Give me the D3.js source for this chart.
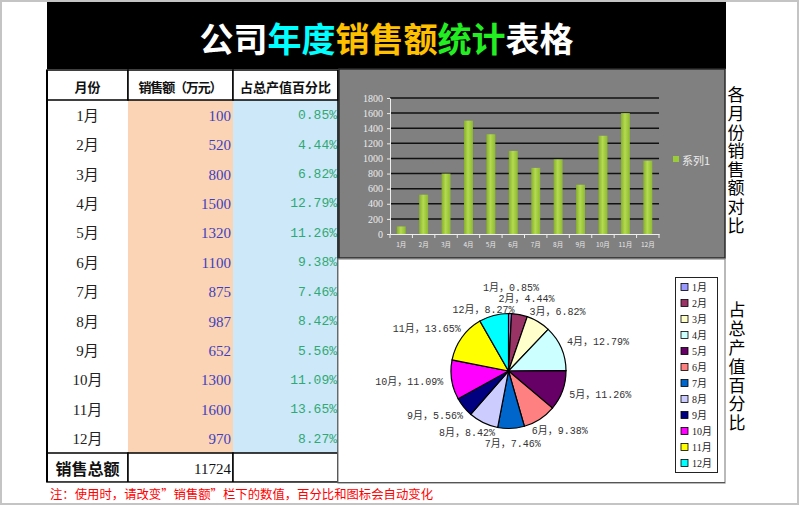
<!DOCTYPE html>
<html><head><meta charset="utf-8">
<script src="https://cdn.jsdelivr.net/npm/d3@7"></script>
<style>body{margin:0;background:#fff}svg{display:block}</style>
</head><body>
<svg id="c" width="800" height="506"></svg>
<script>
// ---------- data ----------
const months = ["1月","2月","3月","4月","5月","6月","7月","8月","9月","10月","11月","12月"];
const sales = [100, 520, 800, 1500, 1320, 1100, 875, 987, 652, 1300, 1600, 970];
const percents = ["0.85%","4.44%","6.82%","12.79%","11.26%","9.38%","7.46%","8.42%","5.56%","11.09%","13.65%","8.27%"];
const totalSales = 11724;
const yTicks = [0,200,400,600,800,1000,1200,1400,1600,1800];
const sliceColors = ["#9999FF","#993366","#FFFFCC","#CCFFFF","#660066","#FF8080","#0066CC","#CCCCFF","#000080","#FF00FF","#FFFF00","#00FFFF"];
const seriesName = "系列1";
const titleParts = [["公司","#ffffff"],["年度","#00FFFF"],["销售额","#FFC000"],["统计","#22EE22"],["表格","#ffffff"]];
const headers = ["月份","销售额（万元）","占总产值百分比"];
const totalLabel = "销售总额";
const note = "注：使用时，请改变”销售额”栏下的数值，百分比和图标会自动变化";
const sideTitle1 = "各月份销售额对比";
const sideTitle2 = "占总产值百分比";

const CJK = "'Noto Sans CJK SC','Noto Sans',sans-serif";
const SERIF = "'Liberation Serif','Noto Sans CJK SC',serif";
const MONO = "'Liberation Mono','Noto Sans CJK SC',monospace";

const svg = d3.select("#c");

// ---------- frame ----------
svg.append("rect").attr("x",1).attr("y",1).attr("width",797).attr("height",503)
  .attr("fill","#fff").attr("stroke","#c4c4c4").attr("stroke-width",2);

// title band
svg.append("rect").attr("x",47).attr("y",2).attr("width",679).attr("height",67).attr("fill","#000");
const tt = svg.append("text").attr("x",386.5).attr("y",37).attr("text-anchor","middle")
  .attr("dominant-baseline","central").attr("font-family",CJK).attr("font-weight","bold").attr("font-size",34);
titleParts.forEach(p => tt.append("tspan").attr("fill",p[1]).text(p[0]));

// ---------- table ----------
const colX = [47,128,233,338];
const headTop = 70, rowsTop = 100, rowsBottom = 453, totalBottom = 482;
const rowH = (rowsBottom - rowsTop) / months.length;
const rowY = d3.scaleBand().domain(months).range([rowsTop, rowsBottom]);

svg.append("rect").attr("x",colX[1]).attr("y",rowsTop).attr("width",colX[2]-colX[1]).attr("height",rowsBottom-rowsTop).attr("fill","#FAD4B4");
svg.append("rect").attr("x",colX[2]).attr("y",rowsTop).attr("width",colX[3]-colX[2]).attr("height",rowsBottom-rowsTop).attr("fill","#CCE8F9");

// header cells
headers.forEach((h,i)=>{
  svg.append("rect").attr("x",colX[i]).attr("y",headTop).attr("width",colX[i+1]-colX[i]).attr("height",rowsTop-headTop)
    .attr("fill","#fff").attr("stroke","#000").attr("stroke-width",1.5);
  svg.append("text").attr("x",(colX[i]+colX[i+1])/2).attr("y",(headTop+rowsTop)/2+1)
    .attr("text-anchor","middle").attr("dominant-baseline","central")
    .attr("font-family",CJK).attr("font-weight","bold").attr("font-size",13).attr("fill","#111")
    .attr("textLength", i===1 ? 84 : null).text(h);
});

// rows
const rows = svg.append("g").selectAll("g").data(months).join("g");
rows.append("text").attr("x",(colX[0]+colX[1])/2).attr("y",d=>rowY(d)+rowH/2+1)
  .attr("text-anchor","middle").attr("dominant-baseline","central")
  .attr("font-family",SERIF).attr("font-size",15).attr("fill","#222").text(d=>d);
rows.append("text").attr("x",colX[2]-2).attr("y",d=>rowY(d)+rowH/2+1)
  .attr("text-anchor","end").attr("dominant-baseline","central")
  .attr("font-family",SERIF).attr("font-size",15).attr("fill","#3F3FBF").text((d,i)=>sales[i]);
rows.append("text").attr("x",colX[3]-1).attr("y",d=>rowY(d)+rowH/2+1)
  .attr("text-anchor","end").attr("dominant-baseline","central")
  .attr("font-family",MONO).attr("font-size",13).attr("fill","#30A874").text((d,i)=>percents[i]);

// total row
[0,1,2].forEach(i=>{
  svg.append("rect").attr("x",colX[i]).attr("y",rowsBottom).attr("width",colX[i+1]-colX[i]).attr("height",totalBottom-rowsBottom)
    .attr("fill","#fff").attr("stroke","#000").attr("stroke-width",1.5);
});
svg.append("text").attr("x",(colX[0]+colX[1])/2).attr("y",(rowsBottom+totalBottom)/2)
  .attr("text-anchor","middle").attr("dominant-baseline","central")
  .attr("font-family",CJK).attr("font-weight","bold").attr("font-size",16).attr("fill","#111").text(totalLabel);
svg.append("text").attr("x",colX[2]-2).attr("y",(rowsBottom+totalBottom)/2+1)
  .attr("text-anchor","end").attr("dominant-baseline","central")
  .attr("font-family",SERIF).attr("font-size",15).attr("fill","#111").text(totalSales);

// table outer lines
svg.append("line").attr("x1",47).attr("x2",47).attr("y1",headTop).attr("y2",totalBottom).attr("stroke","#000").attr("stroke-width",2);
svg.append("line").attr("x1",338).attr("x2",338).attr("y1",headTop).attr("y2",totalBottom).attr("stroke","#000").attr("stroke-width",1.5);

// ---------- bar chart panel ----------
svg.append("rect").attr("x",339).attr("y",69).attr("width",386).attr("height",189)
  .attr("fill","#808080").attr("stroke","#2a2a2a").attr("stroke-width",1.5);

const x = d3.scaleBand().domain(months).range([390,659]).paddingInner(0.6).paddingOuter(0.3);
const y = d3.scaleLinear().domain([0,1800]).range([234,98]);

const defs = svg.append("defs");
const grad = defs.append("linearGradient").attr("id","barg").attr("x1","0").attr("x2","1").attr("y1","0").attr("y2","0");
grad.append("stop").attr("offset","0%").attr("stop-color","#86B02A");
grad.append("stop").attr("offset","45%").attr("stop-color","#B4DA52");
grad.append("stop").attr("offset","100%").attr("stop-color","#8DBA2E");

// gridlines
svg.append("g").selectAll("line").data(yTicks.filter(t=>t>0)).join("line")
  .attr("x1",390).attr("x2",659).attr("y1",d=>y(d)).attr("y2",d=>y(d))
  .attr("stroke","#111").attr("stroke-width",1.5);

// bars
svg.append("g").selectAll("rect").data(sales).join("rect")
  .attr("x",(d,i)=>x(months[i])).attr("width",x.bandwidth())
  .attr("y",d=>y(d)).attr("height",d=>y(0)-y(d)).attr("fill","url(#barg)");

// y axis
const yAxis = svg.append("g").attr("transform","translate(390,0)")
  .call(d3.axisLeft(y).tickValues(yTicks).tickFormat(d3.format("d")).tickSize(3).tickSizeOuter(0).tickPadding(4));
yAxis.select(".domain").attr("stroke","#eee");
yAxis.selectAll(".tick line").attr("stroke","#eee");
yAxis.selectAll("text").attr("fill","#ececec").attr("font-family","'Liberation Serif',serif").attr("font-size",10);

// x axis
const xAxis = svg.append("g").attr("transform","translate(0,234)")
  .call(d3.axisBottom(x).tickSize(0).tickSizeOuter(0).tickPadding(8));
xAxis.select(".domain").attr("stroke","#eee");
xAxis.selectAll("text").attr("fill","#eaeaea").attr("font-family",CJK).attr("font-size",6.5);
const bounds = months.map((m,i)=>x(m) - x.step()*x.paddingOuter()).concat([659]);
svg.append("g").selectAll("line").data(bounds).join("line")
  .attr("x1",d=>d).attr("x2",d=>d).attr("y1",234).attr("y2",238).attr("stroke","#eee");

// legend
svg.append("rect").attr("x",673).attr("y",156).attr("width",6).attr("height",6).attr("fill","#9ACB38");
svg.append("text").attr("x",682).attr("y",159.5).attr("dominant-baseline","central")
  .attr("font-family",CJK).attr("font-size",11).attr("fill","#ececec").text(seriesName);

// ---------- pie panel ----------
svg.append("rect").attr("x",338).attr("y",259).attr("width",387).attr("height",224)
  .attr("fill","#fff").attr("stroke","#8a8a8a").attr("stroke-width",1.2);
svg.append("line").attr("x1",47).attr("x2",725).attr("y1",482.5).attr("y2",482.5).attr("stroke","#555").attr("stroke-width",1.2);

const cx = 508.5, cy = 371, R = 57.5;
const pie = d3.pie().sort(null).value(d=>d);
const arcs = pie(sales);
const arc = d3.arc().innerRadius(0).outerRadius(R);
const pg = svg.append("g").attr("transform",`translate(${cx},${cy})`);
pg.selectAll("path").data(arcs).join("path").attr("d",arc)
  .attr("fill",(d,i)=>sliceColors[i]).attr("stroke","#000").attr("stroke-width",1.2);

// pie labels
const labelR = R + 9;
const lbl = svg.append("g").selectAll("text").data(arcs).join("text")
  .attr("text-anchor","middle").attr("dominant-baseline","central")
  .attr("font-family",MONO).attr("font-size",10).attr("fill","#333")
  .text((d,i)=>months[i] + "，" + percents[i]);
const boxes = [];
lbl.each(function(d){
  const a = (d.startAngle+d.endAngle)/2;
  const w = this.getComputedTextLength(), h = 11;
  const px = cx + Math.sin(a)*labelR, py = cy - Math.cos(a)*labelR;
  boxes.push({x: px + Math.sin(a)*w/2, y: py - Math.cos(a)*h/2, w, h});
});
for (let it=0; it<200; it++){
  for (let i=0;i<boxes.length;i++) for (let j=i+1;j<boxes.length;j++){
    const A=boxes[i], B=boxes[j];
    if (Math.abs(A.x-B.x) < (A.w+B.w)/2 && Math.abs(A.y-B.y) < (A.h+B.h)/2){
      const ov = (A.h+B.h)/2 - Math.abs(A.y-B.y);
      if (A.y <= B.y){ A.y -= ov/2; B.y += ov/2; } else { A.y += ov/2; B.y -= ov/2; }
    }
  }
}
lbl.attr("x",(d,i)=>boxes[i].x).attr("y",(d,i)=>boxes[i].y);

// pie legend
svg.append("rect").attr("x",675.5).attr("y",277.5).attr("width",42).attr("height",195)
  .attr("fill","#fff").attr("stroke","#222").attr("stroke-width",1);
const ly = d3.scalePoint().domain(months).range([287,463]);
const lg = svg.append("g").selectAll("g").data(months).join("g");
lg.append("rect").attr("x",681).attr("y",d=>ly(d)-3.5).attr("width",7).attr("height",7)
  .attr("fill",(d,i)=>sliceColors[i]).attr("stroke","#000").attr("stroke-width",0.8);
lg.append("text").attr("x",692).attr("y",d=>ly(d)+0.5).attr("dominant-baseline","central")
  .attr("font-family",SERIF).attr("font-size",10).attr("fill","#222").text(d=>d);

// ---------- side titles (vertical text) ----------
function vertical(str, x0, yTop, spacing){
  svg.append("text").attr("x",x0).attr("y",yTop)
    .style("writing-mode","vertical-rl").style("text-orientation","upright")
    .style("letter-spacing", spacing + "px")
    .attr("font-family",CJK).attr("font-size",17).attr("fill","#000").text(str);
}
vertical(sideTitle1, 736, 86.5, 1.6);
vertical(sideTitle2, 737, 301.5, 1.8);

// ---------- footer note ----------
svg.append("text").attr("x",50).attr("y",493).attr("dominant-baseline","central")
  .attr("font-family",CJK).attr("font-size",12.5).attr("fill","#FF0000")
  .attr("textLength",383).attr("lengthAdjust","spacingAndGlyphs").text(note);
</script>
</body></html>
